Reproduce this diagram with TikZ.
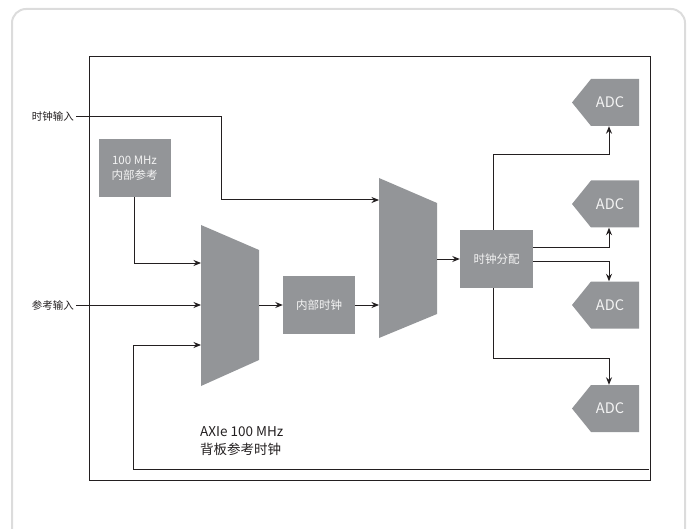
\documentclass[tikz,border=0pt]{standalone}
\usepackage{fontspec}
\setmainfont{Noto Sans CJK SC}
\usetikzlibrary{arrows.meta}
\definecolor{gfill}{HTML}{939598}
\definecolor{dline}{HTML}{231F20}
\definecolor{wtext}{HTML}{F4F4F4}
\definecolor{frame}{HTML}{DCDCDC}
\begin{document}
\begin{tikzpicture}[x=1pt,y=-1pt,
  graybox/.style={fill=gfill,text=wtext,inner sep=0pt,align=center,font=\fontsize{11.5}{15}\selectfont},
  lbl/.style={text=dline,inner sep=2pt,font=\fontsize{10.5}{12}\selectfont},
  adctext/.style={text=wtext,inner sep=0pt,minimum width=60pt,minimum height=47pt,font=\fontsize{14.5}{16}\selectfont},
  conn/.style={draw=dline,line width=1pt},
  arr/.style={conn,-{Stealth[length=7.5pt,width=6pt]}},
  muxshape/.style={fill=gfill}]
\useasboundingbox (0,0) rectangle (690,529);
\begin{scope}
\clip (0,0) rectangle (690,529);
\draw[frame,line width=2pt,rounded corners=14pt] (12,9) rectangle (685,560);
\end{scope}
% inner frame
\draw[dline,line width=1pt] (89,57) rectangle (650,480);

% labels
\node[lbl,anchor=east] (clkin) at (76,117) {时钟输入};
\node[lbl,anchor=east] (refin) at (76,305) {参考输入};

% boxes
\node[graybox,minimum width=72pt,minimum height=58pt] (ref) at (134.5,168) {100 MHz\\内部参考};
\node[graybox,minimum width=72pt,minimum height=58pt] (intclk) at (319,305) {内部时钟};
\node[graybox,minimum width=73pt,minimum height=58pt] (dist) at (496.5,259) {时钟分配};

% multiplexers
\fill[muxshape] (201,225) -- (259,250) -- (259,360) -- (201,386) -- cycle;
\coordinate (m1in1) at (201,263);
\coordinate (m1in2) at (201,305);
\coordinate (m1in3) at (201,345);
\coordinate (m1out) at (259,305);
\fill[muxshape] (379,178) -- (437,203) -- (437,314) -- (379,338) -- cycle;
\coordinate (m2in1) at (379,200);
\coordinate (m2in2) at (379,305);
\coordinate (m2out) at (437,259);

% ADCs
\foreach \n/\yy in {1/102.5,2/204,3/305,4/408.5}{
  \fill[gfill] (591,\yy-23.5) -- (639,\yy-23.5) -- (639,\yy+23.5) -- (591,\yy+23.5) -- (572,\yy) -- cycle;
  \node[adctext] (adc\n) at (609,\yy) {\hspace{2pt}ADC};
}

% backplane text
\node[anchor=north west,align=left,text=dline,inner sep=0pt,font=\fontsize{13.5}{18}\selectfont] (axie) at (200,426) {AXIe 100 MHz\\背板参考时钟};
\coordinate (bp) at (649,469);

% connectors
\draw[arr] (clkin.east) -| (221,200) -- (m2in1);
\draw[arr] (ref.south) |- (m1in1);
\draw[arr] (refin.east) -- (m1in2);
\draw[arr] (bp) -| (133,345) -- (m1in3);
\draw[arr] (m1out) -- (intclk.west);
\draw[arr] (intclk.east) -- (m2in2);
\draw[arr] (m2out) -- (dist.west);
\draw[arr] ([xshift=-3.5pt]dist.north) |- (609,155) -- (adc1.south);
\draw[arr] ([yshift=11pt]dist.east) -| (adc2.south);
\draw[arr] ([yshift=-2pt]dist.east) -| (adc3.north);
\draw[arr] ([xshift=-3.5pt]dist.south) |- (609,358) -- (adc4.north);
\end{tikzpicture}
\end{document}
